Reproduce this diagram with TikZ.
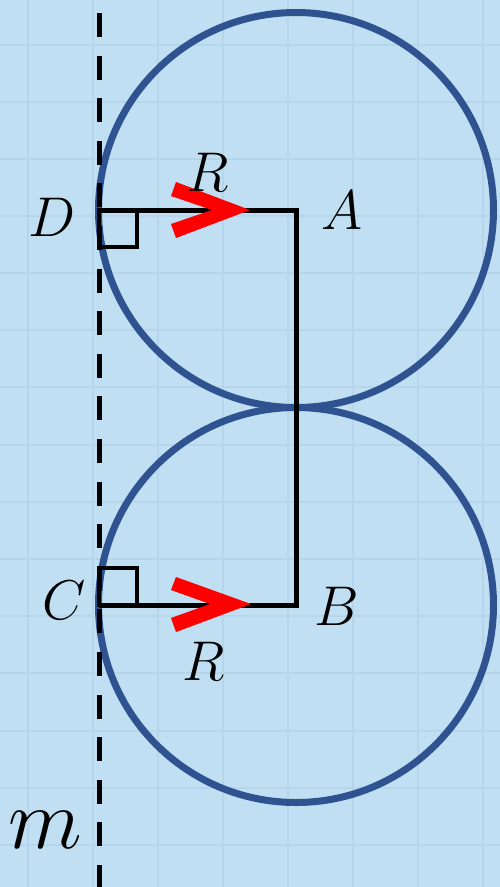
\RequirePackage{fix-cm}
\documentclass[tikz,border=0pt]{standalone}
\definecolor{bgblue}{HTML}{C1DFF2}
\definecolor{gridblue}{HTML}{B6D5EA}
\definecolor{circblue}{HTML}{2F5391}
\begin{document}
\begin{tikzpicture}[x=1pt,y=-1pt,
  gridline/.style={draw=gridblue,line width=1.6pt},
  circ/.style={draw=circblue,line width=7pt},
  seg/.style={draw=black,line width=5pt},
  axisline/.style={draw=black,line width=5pt,dash pattern=on 24pt off 18.6pt},
  chev/.style={fill=red},
  lab/.style={inner sep=0pt,font=\fontsize{56}{60}\selectfont},
  biglab/.style={inner sep=0pt,font=\fontsize{86}{90}\selectfont}]
\useasboundingbox (0,0) rectangle (500,887);
\fill[bgblue] (0,0) rectangle (500,887);
% grid
\foreach \gx in {28,93,158,223,288,353,418,483}
  \draw[gridline] (\gx,0) -- (\gx,887);
\foreach \gy in {45,102,159,216,273,330,387,445,502,559,616,673,731,788,845}
  \draw[gridline] (0,\gy) -- (500,\gy);
% points
\coordinate (A) at (296,210);
\coordinate (B) at (296,605);
\coordinate (D) at (99,210);
\coordinate (C) at (99,605);
\coordinate (mtop) at (99,13);
\coordinate (mbot) at (99,887);
% circles
\draw[circ] (A) circle (197.5);
\draw[circ] (B) circle (197.5);
% dashed line m
\draw[axisline] (mtop) -- (mbot);
% segments
\draw[seg,line join=miter] (D) -- (A) -- (B) -- (C);
% right angle marks
\draw[seg,line width=4.5pt] (D) rectangle ++(38,37);
\draw[seg,line width=4.5pt] (C) rectangle ++(38,-37);
% red chevrons
\fill[chev] (250,210) -- (176,182) -- (171,196) -- (212,210) -- (171,224) -- (176,238) -- cycle;
\fill[chev] (251,604) -- (176,577) -- (171,590) -- (210,604) -- (171,618) -- (176,632) -- cycle;
% labels
\node[lab] (lD) at (52,217) {$D$};
\node[lab] (lA) at (342,210) {$A$};
\node[lab] (lC) at (64,600) {$C$};
\node[lab] (lB) at (337,606) {$B$};
\node[lab] (lR1) at (208,172) {$R$};
\node[lab] (lR2) at (204,661) {$R$};
\node[biglab] (lm) at (45,830) {$m$};
\end{tikzpicture}
\end{document}
